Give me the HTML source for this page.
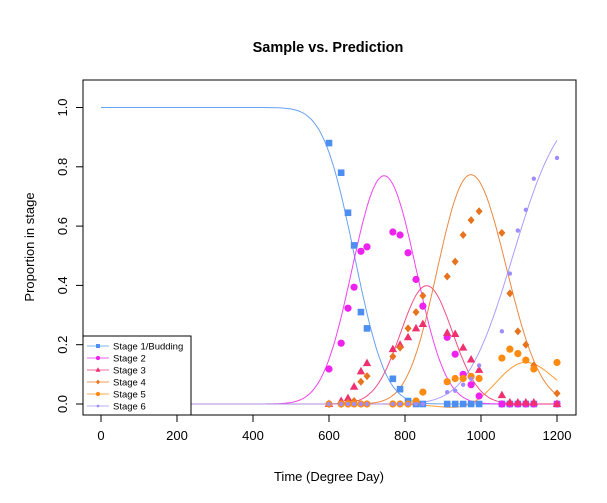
<!DOCTYPE html>
<html><head><meta charset="utf-8"><style>
body{margin:0;background:#fff}
svg text{font-family:"Liberation Sans",Arial,sans-serif}
</style></head><body>
<svg id="c" width="607" height="498" xmlns="http://www.w3.org/2000/svg">
<rect width="607" height="498" fill="#fff"/>
<text x="328" y="52" text-anchor="middle" font-size="14.5" font-weight="bold">Sample vs. Prediction</text>
<text x="329" y="481" text-anchor="middle" font-size="13">Time (Degree Day)</text>
<text transform="translate(34,247) rotate(-90)" text-anchor="middle" font-size="13">Proportion in stage</text>
<g id="axes"></g><g id="curves"></g><g id="pts"></g>
<rect x="83" y="80" width="493" height="335" fill="none" stroke="#000"/>
<g id="legend"></g>
</svg>
<script>
const times=[600,632,650,666,684,700,768,787,808,829,847,911,932,953,974,995,1055,1076,1097,1118,1139,1200];
const stage1=[0.88,0.78,0.645,0.535,0.31,0.255,0.085,0.05,0.01,0,0,0,0,0,0,0,0,0,0,0,0,0];
const stage2=[0.118,0.205,0.323,0.394,0.515,0.53,0.58,0.57,0.51,0.42,0.33,0.225,0.168,0.1,0.065,0.027,0,0,0,0,0,0];
const stage3=[0,0.01,0.02,0.058,0.11,0.138,0.185,0.2,0.225,0.255,0.27,0.24,0.236,0.19,0.15,0.115,0.03,0.005,0.005,0.005,0.005,0];
const stage4=[0,0,0.005,0.01,0.075,0.094,0.16,0.19,0.255,0.31,0.365,0.43,0.48,0.57,0.62,0.65,0.577,0.373,0.245,0.2,0.13,0.036];
const stage5=[0,0,0,0,0,0,0,0,0,0.01,0.04,0.075,0.086,0.086,0.093,0.086,0.155,0.185,0.17,0.148,0.118,0.14];
const stage6=[0,0,0,0,0,0,0,0,0,0,0,0.04,0.045,0.065,0.085,0.13,0.245,0.44,0.585,0.655,0.76,0.83];
const transMu=[667,823,891,1060,1084];
const transSigma=[65,65,65,75,95];
const xTicks=[0,200,400,600,800,1000,1200];
const yTicks=[0,0.2,0.4,0.6,0.8,1.0];
const names=["Stage 1/Budding","Stage 2","Stage 3","Stage 4","Stage 5","Stage 6"];
const colors=["#4d8ff0","#ee22ee","#f0306e","#e8731e","#ff8a10","#a08cff"];
const shapes=["square","circle","triangle","diamond","circle","small"];
const series=[stage1,stage2,stage3,stage4,stage5,stage6];
const NS="http://www.w3.org/2000/svg";
const X=t=>101+0.38*t, Y=v=>404-296.5*v;
function mk(tag,at,par){const e=document.createElementNS(NS,tag);for(const k in at)e.setAttribute(k,at[k]);par.appendChild(e);return e;}
const ax=document.getElementById('axes');
xTicks.forEach(t=>{const l=mk('line',{x1:X(t),x2:X(t),y1:415,y2:422,stroke:'#000'},ax);

const tx=mk('text',{x:X(t),y:440,'text-anchor':'middle','font-size':'13'},ax);tx.textContent=t;
});
yTicks.forEach(v=>{const l=mk('line',{x1:76,x2:83,y1:Y(v),y2:Y(v),stroke:'#000'},ax);

const tx=mk('text',{transform:`translate(67,${Y(v)}) rotate(-90)`,'text-anchor':'middle','font-size':'13'},ax);tx.textContent=v.toFixed(1);
});
function Phi(z){const t=1/(1+0.2316419*Math.abs(z));const d=0.3989423*Math.exp(-z*z/2);const p=d*t*(0.3193815+t*(-0.3565638+t*(1.781478+t*(-1.821256+t*1.330274))));return z>0?1-p:p;}
function cum(k,t){return k<0?1:(k>=transMu.length?0:Phi((t-transMu[k])/transSigma[k]));}
const cg=document.getElementById('curves');
for(let s=0;s<6;s++){let d='';for(let t=0;t<=1200;t+=4){const v=cum(s-1,t)-cum(s,t);d+=(t?'L':'M')+X(t).toFixed(1)+','+Y(v).toFixed(1);}
const p=mk('path',{d:d,fill:'none',stroke:colors[s],'stroke-width':'1','stroke-opacity':'0.85'},cg);
}
function marker(shape,x,y,c,par,sc){sc=sc||1;let e;
if(shape==='square')e=mk('rect',{x:x-3.3*sc,y:y-3.3*sc,width:6.6*sc,height:6.6*sc,fill:c},par);
else if(shape==='circle')e=mk('circle',{cx:x,cy:y,r:3.6*sc,fill:c},par);
else if(shape==='triangle')e=mk('polygon',{points:`${x},${y-4.5*sc} ${x-4.2*sc},${y+3*sc} ${x+4.2*sc},${y+3*sc}`,fill:c},par);
else if(shape==='diamond')e=mk('polygon',{points:`${x},${y-4*sc} ${x+3.5*sc},${y} ${x},${y+4*sc} ${x-3.5*sc},${y}`,fill:c},par);
else e=mk('circle',{cx:x,cy:y,r:2.2*sc,fill:c},par);return e;}
const pg=document.getElementById('pts');
series.forEach((arr,s)=>arr.forEach((v,i)=>{const e=marker(shapes[s],X(times[i]),Y(v),colors[s],pg);
}));
const lg=document.getElementById('legend');
const box=mk('rect',{x:83,y:336,width:108,height:79,fill:'#fff',stroke:'#000'},lg);

names.forEach((n,s)=>{const y=346+12*s;const g=mk('g',{},lg);

mk('line',{x1:87,x2:109,y1:y,y2:y,stroke:colors[s],'stroke-opacity':'0.7'},g);
marker(shapes[s],98,y,colors[s],g,0.6);
const t=mk('text',{x:113,y:y+3.5,'font-size':'9.5'},g);t.textContent=n;});
</script>
</body></html>
